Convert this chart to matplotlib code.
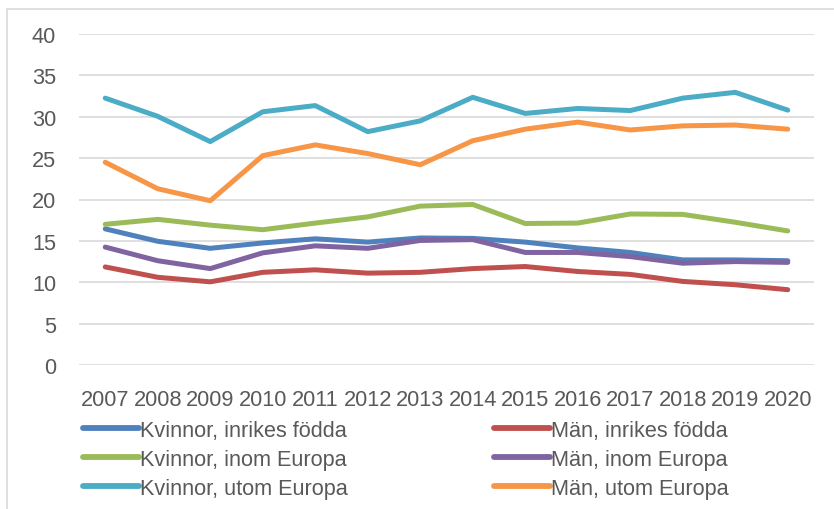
import matplotlib
matplotlib.use("Agg")
import matplotlib.pyplot as plt
from matplotlib.patches import Rectangle
from matplotlib import font_manager

years = ["2007", "2008", "2009", "2010", "2011", "2012", "2013",
         "2014", "2015", "2016", "2017", "2018", "2019", "2020"]

kvinnor_inrikes = [16.45, 14.95, 14.1, 14.75, 15.25, 14.85, 15.35, 15.3, 14.85, 14.15, 13.6, 12.7, 12.7, 12.6]
man_inrikes = [11.85, 10.6, 10.05, 11.2, 11.5, 11.1, 11.2, 11.65, 11.9, 11.3, 10.95, 10.1, 9.7, 9.1]
kvinnor_inom = [17.0, 17.6, 16.9, 16.35, 17.15, 17.9, 19.2, 19.4, 17.1, 17.15, 18.25, 18.2, 17.25, 16.2]
man_inom = [14.25, 12.6, 11.65, 13.55, 14.4, 14.1, 15.05, 15.15, 13.6, 13.6, 13.1, 12.3, 12.5, 12.4]
kvinnor_utom = [32.25, 30.05, 27.0, 30.6, 31.35, 28.2, 29.5, 32.35, 30.4, 31.0, 30.75, 32.25, 32.95, 30.8]
man_utom = [24.5, 21.3, 19.85, 25.3, 26.6, 25.55, 24.2, 27.1, 28.5, 29.35, 28.4, 28.9, 29.0, 28.5]

labels = ["Kvinnor, inrikes födda", "Män, inrikes födda",
          "Kvinnor, inom Europa", "Män, inom Europa",
          "Kvinnor, utom Europa", "Män, utom Europa"]
colors = ["#4F81BD", "#C0504D", "#9BBB59", "#8064A2", "#4BACC6", "#F79646"]
series = [kvinnor_inrikes, man_inrikes, kvinnor_inom, man_inom, kvinnor_utom, man_utom]

yticks = [0, 5, 10, 15, 20, 25, 30, 35, 40]

available = {f.name for f in font_manager.fontManager.ttflist}
family = "Liberation Sans" if "Liberation Sans" in available else "DejaVu Sans"
plt.rcParams["font.family"] = [family, "DejaVu Sans"]

W, H = 834, 510
fig = plt.figure(figsize=(W / 100, H / 100), dpi=100)
fig.patch.set_facecolor("white")

ax = fig.add_axes([79 / W, 1 - 366 / H, (814 - 79) / W, (366 - 35) / H])
x = list(range(len(years)))
handles = []
for vals, col, lab in zip(series, colors, labels):
    ln, = ax.plot(x, vals, color=col, lw=3.6, solid_capstyle="round",
                  solid_joinstyle="round", label=lab, zorder=3)
    handles.append(ln)

ax.set_xlim(-0.5, len(years) - 0.5)
ax.set_ylim(0, 40)
ax.set_yticks(yticks)
ax.set_xticks(x)
ax.set_xticklabels(years)
ax.grid(axis="y", color="#D9D9D9", lw=1.2, zorder=0)
ax.grid(axis="x", visible=False)
for s in ax.spines.values():
    s.set_visible(False)
ax.tick_params(axis="both", length=0, labelsize=15.7, labelcolor="#595959")
ax.tick_params(axis="y", pad=16.5)
ax.tick_params(axis="x", pad=17)

leg_kw = dict(frameon=False, fontsize=15.6, handlelength=2.6, handletextpad=0.05,
              labelspacing=0.37, borderpad=0, borderaxespad=0, loc="upper left",
              bbox_transform=fig.transFigure)
leg1 = fig.legend([handles[0], handles[2], handles[4]], [labels[0], labels[2], labels[4]],
                  bbox_to_anchor=(83 / W, 1 - 421 / H), **leg_kw)
leg2 = fig.legend([handles[1], handles[3], handles[5]], [labels[1], labels[3], labels[5]],
                  bbox_to_anchor=(494 / W, 1 - 421 / H), **leg_kw)
for leg in (leg1, leg2):
    for t in leg.get_texts():
        t.set_color("#595959")
    for l in leg.get_lines():
        l.set_linewidth(4.2)
        l.set_solid_capstyle("round")

fig.patches.append(Rectangle((7 / W, -0.1), 2, 1 - 10 / H + 0.1, transform=fig.transFigure,
                             fill=False, ec="#D9D9D9", lw=1.2))

fig.savefig("out.png", dpi=100)
